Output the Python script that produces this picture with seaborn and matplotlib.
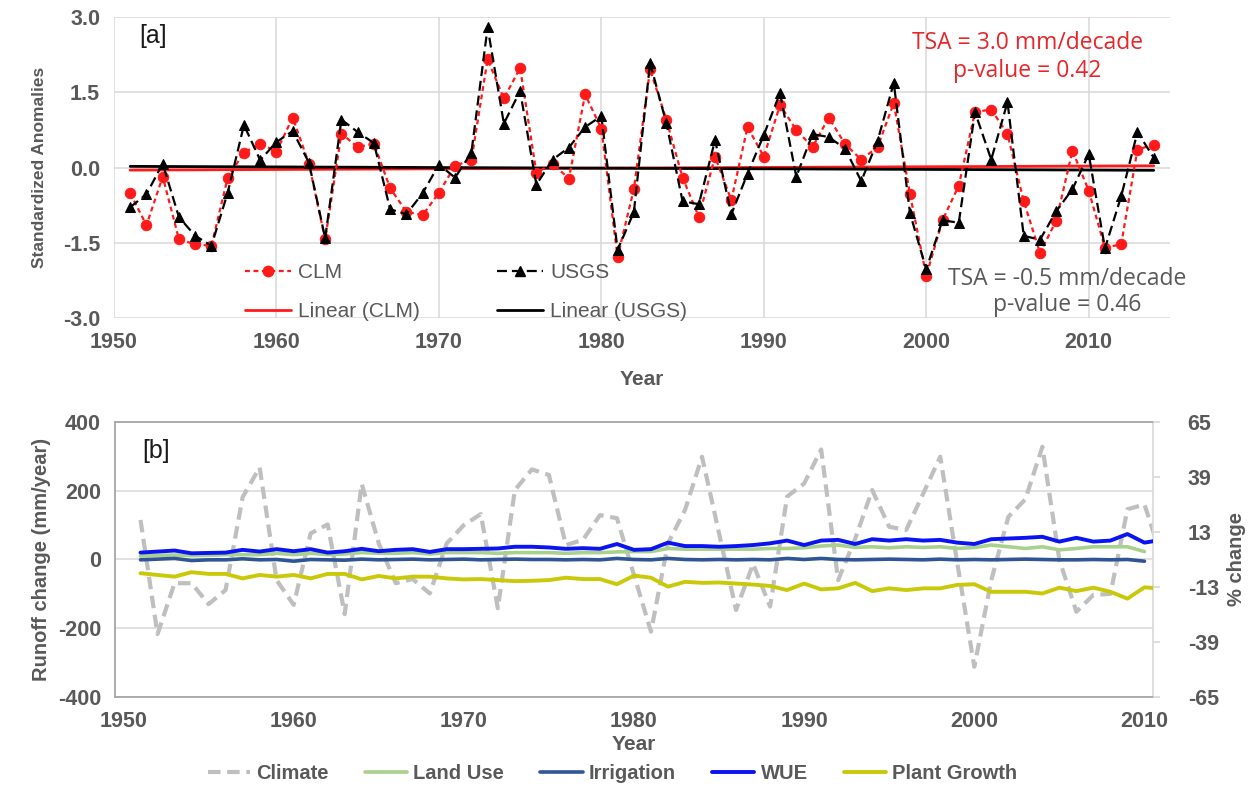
import numpy as np
import pandas as pd
import matplotlib
matplotlib.use("Agg")
import matplotlib.pyplot as plt
from matplotlib.lines import Line2D
import seaborn as sns

sns.set_theme(style="white")
plt.rcParams["font.family"] = ["Liberation Sans", "DejaVu Sans"]

# ---------------- Panel [a]: standardized runoff anomalies ----------------
years_a = list(range(1951, 2015))
clm = [-0.51, -1.15, -0.18, -1.43, -1.53, -1.56, -0.20, 0.30, 0.48, 0.32,
       1.00, 0.08, -1.43, 0.68, 0.41, 0.48, -0.41, -0.88, -0.95, -0.50,
       0.04, 0.15, 2.16, 1.38, 1.99, -0.10, 0.08, -0.22, 1.46, 0.78,
       -1.78, -0.43, 1.96, 0.96, -0.20, -0.98, 0.22, -0.65, 0.81, 0.22,
       1.25, 0.75, 0.41, 1.00, 0.47, 0.16, 0.41, 1.29, -0.53, -2.16,
       -1.05, -0.36, 1.11, 1.16, 0.67, -0.67, -1.70, -1.06, 0.34, -0.46,
       -1.60, -1.53, 0.36, 0.46]
usgs = [-0.79, -0.53, 0.08, -0.99, -1.36, -1.56, -0.50, 0.85, 0.15, 0.51,
        0.73, 0.10, -1.41, 0.96, 0.71, 0.49, -0.83, -0.93, -0.51, 0.06,
        -0.20, 0.30, 2.80, 0.88, 1.53, -0.34, 0.16, 0.40, 0.81, 1.03,
        -1.64, -0.89, 2.09, 0.89, -0.67, -0.73, 0.55, -0.93, -0.12, 0.65,
        1.49, -0.18, 0.67, 0.61, 0.38, -0.27, 0.53, 1.69, -0.91, -2.03,
        -1.05, -1.10, 1.11, 0.16, 1.31, -1.36, -1.44, -0.87, -0.43, 0.27,
        -1.61, -0.57, 0.71, 0.20]
yticks_a = [3.0, 1.5, 0.0, -1.5, -3.0]
xticks = [1950, 1960, 1970, 1980, 1990, 2000, 2010]

# ---------------- Panel [b]: runoff change by driver ----------------
years_b = list(range(1951, 2012))
climate = [115, -217, -69, -69, -130, -89, 181, 268, -60, -132,
           76, 102, -159, 220, 47, -69, -57, -99, 47, 100,
           132, -142, 202, 262, 246, 42, 57, 129, 120, -45,
           -210, 47, 144, 299, 76, -147, -13, -137, 183, 221,
           320, -60, 60, 202, 95, 86, 192, 299, -10, -312,
           -60, 124, 175, 328, -1, -152, -103, -100, 146, 160,
           8]
wue = [20, 23, 26, 18, 19, 20, 28, 23, 30, 24,
       30, 20, 24, 31, 24, 28, 30, 22, 30, 30,
       31, 32, 37, 37, 35, 31, 33, 31, 45, 28,
       30, 49, 39, 39, 37, 39, 42, 47, 55, 42,
       55, 57, 45, 59, 55, 59, 55, 57, 49, 45,
       59, 61, 63, 66, 52, 63, 52, 55, 74, 49,
       57]
plant_growth = [-40, -45, -50, -37, -42, -42, -55, -45, -50, -45,
                -55, -42, -42, -58, -48, -55, -50, -50, -55, -58,
                -57, -60, -63, -62, -60, -53, -57, -57, -72, -47,
                -53, -79, -65, -68, -67, -70, -73, -77, -89, -70,
                -87, -84, -68, -92, -84, -89, -84, -84, -74, -72,
                -94, -94, -94, -99, -82, -92, -82, -94, -114, -81,
                -85]
years_b2 = list(range(1951, 2011))
land_use = [10, 12, 13, 11, 12, 14, 14, 14, 18, 14,
            18, 14, 16, 20, 18, 18, 20, 16, 20, 20,
            20, 18, 20, 20, 20, 18, 20, 20, 22, 23,
            23, 32, 30, 30, 30, 30, 30, 32, 32, 34,
            39, 42, 35, 37, 34, 37, 35, 37, 32, 35,
            42, 37, 32, 37, 28, 32, 37, 37, 37, 23]
irrigation = [-1, 1, 3, -3, -1, -1, 2, -1, 0, -5,
              0, -1, -2, 1, -1, 0, 1, -1, 0, 1,
              -1, 0, 1, 0, 0, -1, 0, -1, 3, 0,
              -1, 3, 0, -1, 0, -1, 0, -1, 3, 0,
              3, 0, -1, 0, 1, 0, -1, 1, -1, 0,
              -1, 0, 1, 0, -1, -1, 0, -1, 0, -5]
yticks_b = [400, 200, 0, -200, -400]
yticks_pct = [65, 39, 13, -13, -39, -65]

TICK_GREY = "#595959"
GRID = "#d9d9d9"

fig = plt.figure(figsize=(12.58, 7.87), dpi=100)
ax1 = fig.add_axes([0.0906, 0.596, 0.8394, 0.382])
ax2 = fig.add_axes([0.0914, 0.1144, 0.8251, 0.3494])

# ---- panel a ----
df_a = pd.DataFrame({"Year": years_a, "CLM": clm, "USGS": usgs})
sns.lineplot(data=df_a, x="Year", y="CLM", ax=ax1, color="#ff1a1a",
             linestyle=(0, (2.2, 1.6)), lw=1.6, marker="o", markersize=7.5,
             markeredgecolor="#ff1a1a", zorder=3)
sns.lineplot(data=df_a, x="Year", y="USGS", ax=ax1, color="black",
             linestyle=(0, (4.5, 2.2)), lw=1.6, marker="^", markersize=7.5,
             markeredgecolor="black", zorder=4)
sns.regplot(data=df_a, x="Year", y="CLM", ax=ax1, scatter=False, ci=None,
            truncate=True, color="#ff1a1a", line_kws={"lw": 2.0, "zorder": 2})
sns.regplot(data=df_a, x="Year", y="USGS", ax=ax1, scatter=False, ci=None,
            truncate=True, color="black", line_kws={"lw": 2.0, "zorder": 2})

ax1.set_xlim(1950, 2015)
ax1.set_ylim(-3.0, 3.0)
ax1.set_yticks(yticks_a, [f"{v:.1f}" for v in yticks_a])
ax1.set_xticks(xticks, [str(t) for t in xticks])
ax1.grid(True, color=GRID, lw=1.1)
for s in ax1.spines.values():
    s.set_visible(False)
ax1.tick_params(axis="both", length=0, labelsize=15.5, labelcolor=TICK_GREY, pad=10)
for lab in ax1.get_xticklabels() + ax1.get_yticklabels():
    lab.set_fontweight("bold")
ax1.set_xlabel("Year", fontsize=15, fontweight="bold", color=TICK_GREY, labelpad=12)
ax1.set_ylabel("Standardized Anomalies", fontsize=12.5, fontweight="bold",
               color=TICK_GREY, labelpad=11)
ax1.text(0.024, 0.915, "[a]", transform=ax1.transAxes, fontsize=18, color="#1a1a1a")

ax1.text(0.865, 0.915, "TSA = 3.0 mm/decade", transform=ax1.transAxes, ha="center",
         va="center", fontsize=16.5, color="#e8262a", family=["Open Sans", "DejaVu Sans"])
ax1.text(0.865, 0.823, "p-value = 0.42", transform=ax1.transAxes, ha="center",
         va="center", fontsize=16.5, color="#e8262a", family=["Open Sans", "DejaVu Sans"])
ax1.text(0.903, 0.130, "TSA = -0.5 mm/decade", transform=ax1.transAxes, ha="center",
         va="center", fontsize=16.5, color=TICK_GREY, family=["Open Sans", "DejaVu Sans"])
ax1.text(0.903, 0.044, "p-value = 0.46", transform=ax1.transAxes, ha="center",
         va="center", fontsize=16.5, color=TICK_GREY, family=["Open Sans", "DejaVu Sans"])

leg_a = [
    Line2D([], [], color="#ff1a1a", linestyle=(0, (2.2, 1.6)), lw=1.6, marker="o",
           markersize=7.5, markeredgecolor="#ff1a1a"),
    Line2D([], [], color="#ff1a1a", lw=2.0),
    Line2D([], [], color="black", linestyle=(0, (4.5, 2.2)), lw=1.6, marker="^",
           markersize=7.5),
    Line2D([], [], color="black", lw=2.0),
]
ax1.legend(leg_a, ["CLM", "Linear (CLM)", "USGS", "Linear (USGS)"], ncol=2,
           loc="lower left", bbox_to_anchor=(0.124, -0.01), frameon=False,
           fontsize=15, labelcolor=TICK_GREY, handlelength=2.2, handletextpad=0.35,
           columnspacing=3.7, labelspacing=0.95, borderpad=0, borderaxespad=0)

# ---- panel b ----
df_b = pd.DataFrame({"Year": years_b, "Climate": climate, "WUE": wue,
                     "Plant Growth": plant_growth})
df_b2 = pd.DataFrame({"Year": years_b2, "Land Use": land_use, "Irrigation": irrigation})

styles_b = {
    "Climate": dict(color="#bfbfbf", lw=3.0, linestyle=(0, (3, 1.6))),
    "Land Use": dict(color="#a9d18e", lw=2.6, linestyle="-"),
    "Irrigation": dict(color="#2f5597", lw=2.6, linestyle="-"),
    "WUE": dict(color="#0a14f0", lw=2.8, linestyle="-"),
    "Plant Growth": dict(color="#c9c90a", lw=2.8, linestyle="-"),
}
sns.lineplot(data=df_b, x="Year", y="Climate", ax=ax2, zorder=2, **styles_b["Climate"])
sns.lineplot(data=df_b2, x="Year", y="Land Use", ax=ax2, zorder=3, **styles_b["Land Use"])
sns.lineplot(data=df_b2, x="Year", y="Irrigation", ax=ax2, zorder=3, **styles_b["Irrigation"])
sns.lineplot(data=df_b, x="Year", y="WUE", ax=ax2, zorder=4, **styles_b["WUE"])
sns.lineplot(data=df_b, x="Year", y="Plant Growth", ax=ax2, zorder=3, **styles_b["Plant Growth"])

ax2.set_xlim(1949.5, 2010.5)
ax2.set_ylim(-400, 400)
ax2.set_yticks(yticks_b, [str(v) for v in yticks_b])
ax2.set_xticks(xticks, [str(t) for t in xticks])
ax2.grid(True, axis="y", color=GRID, lw=1.1)
ax2.grid(False, axis="x")
for side in ["top", "bottom", "left"]:
    ax2.spines[side].set_color("#a6a6a6")
    ax2.spines[side].set_linewidth(1.3)
ax2.spines["right"].set_color("#d9d9d9")
ax2.tick_params(axis="both", length=0, labelsize=15.5, labelcolor=TICK_GREY, pad=10)
for lab in ax2.get_xticklabels() + ax2.get_yticklabels():
    lab.set_fontweight("bold")
ax2.set_xlabel("Year", fontsize=15, fontweight="bold", color=TICK_GREY, labelpad=2)
ax2.set_ylabel("Runoff change (mm/year)", fontsize=14.5, fontweight="bold",
               color=TICK_GREY, labelpad=5)
ax2.text(0.026, 0.87, "[b]", transform=ax2.transAxes, fontsize=18, color="#1a1a1a")

ax2r = ax2.twinx()
ax2r.set_ylim(-65, 65)
ax2r.set_yticks(yticks_pct, [str(v) for v in yticks_pct])
ax2r.grid(False)
for s in ax2r.spines.values():
    s.set_visible(False)
ax2r.tick_params(axis="y", length=5, color="#d9d9d9", labelsize=15.5,
                 labelcolor=TICK_GREY, pad=20)
for lab in ax2r.get_yticklabels():
    lab.set_fontweight("bold")
ax2r.set_ylabel("% change", fontsize=14.5, fontweight="bold", color=TICK_GREY, labelpad=6)

names_b = ["Climate", "Land Use", "Irrigation", "WUE", "Plant Growth"]
handles_b = [Line2D([], [], **styles_b[n]) for n in names_b]
fig.legend(handles_b, names_b, ncol=5, loc="center", bbox_to_anchor=(0.487, 0.017),
           frameon=False, prop={"size": 14.5, "weight": "bold"}, labelcolor=TICK_GREY,
           handlelength=2.1, handletextpad=0.3, columnspacing=1.8, borderpad=0)

fig.savefig("out.png", dpi=100)
